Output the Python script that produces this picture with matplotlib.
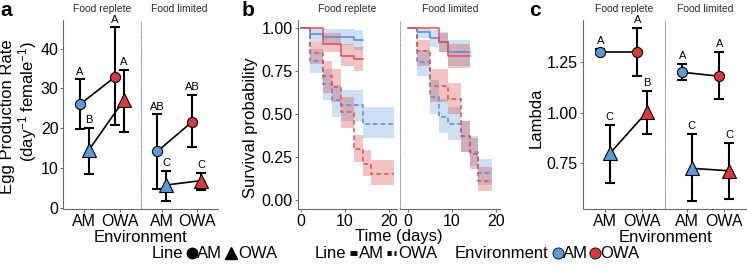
import matplotlib
matplotlib.use("Agg")
import matplotlib.pyplot as plt
from matplotlib.lines import Line2D

plt.rcParams["font.family"] = ["Liberation Sans", "DejaVu Sans"]
plt.rcParams["mathtext.fontset"] = "custom"
plt.rcParams["mathtext.rm"] = "Liberation Sans"
plt.rcParams["mathtext.it"] = "Liberation Sans"

W, H = 747, 268

# ---- data -----------------------------------------------------------------
environments = ["AM", "OWA"]
facets = ["Food replete", "Food limited"]

# panel a: egg production rate, [AM env, OWA env] per line
egg_repl_am = [26.0, 32.9]
egg_repl_am_lo = [19.8, 20.8]
egg_repl_am_hi = [32.3, 45.3]
egg_repl_am_lab = ["A", "A"]
egg_repl_owa = [14.6, 27.2]
egg_repl_owa_lo = [8.6, 19.2]
egg_repl_owa_hi = [20.2, 34.6]
egg_repl_owa_lab = ["B", "A"]
egg_lim_am = [14.2, 21.7]
egg_lim_am_lo = [4.8, 15.2]
egg_lim_am_hi = [23.5, 28.3]
egg_lim_am_lab = ["AB", "AB"]
egg_lim_owa = [5.8, 6.9]
egg_lim_owa_lo = [1.8, 4.6]
egg_lim_owa_hi = [9.4, 8.75]
egg_lim_owa_lab = ["C", "C"]

# panel c: lambda
lam_repl_am = [1.30, 1.30]
lam_repl_am_lo = [1.29, 1.18]
lam_repl_am_hi = [1.315, 1.42]
lam_repl_am_lab = ["A", "A"]
lam_repl_owa = [0.80, 1.005]
lam_repl_owa_lo = [0.655, 0.894]
lam_repl_owa_hi = [0.939, 1.108]
lam_repl_owa_lab = ["C", "B"]
lam_lim_am = [1.20, 1.18]
lam_lim_am_lo = [1.161, 1.067]
lam_lim_am_hi = [1.243, 1.30]
lam_lim_am_lab = ["A", "A"]
lam_lim_owa = [0.726, 0.714]
lam_lim_owa_lo = [0.565, 0.573]
lam_lim_owa_hi = [0.894, 0.852]
lam_lim_owa_lab = ["C", "C"]

# panel b: survival (step, post); line x environment
surv_repl_am_am_t = [0, 2, 5, 12, 14.2]
surv_repl_am_am = [1.0, 0.965, 0.95, 0.93, 0.93]
surv_repl_am_am_lo = [1.0, 0.92, 0.90, 0.87, 0.87]
surv_repl_am_am_hi = [1.0, 1.0, 0.995, 0.99, 0.99]

surv_repl_am_owa_t = [0, 5, 9, 12, 14.2]
surv_repl_am_owa = [1.0, 0.91, 0.84, 0.82, 0.82]
surv_repl_am_owa_lo = [1.0, 0.86, 0.78, 0.75, 0.75]
surv_repl_am_owa_hi = [1.0, 0.97, 0.91, 0.89, 0.89]

surv_repl_owa_am_t = [0, 2, 5, 7, 9, 14, 21.2]
surv_repl_owa_am = [1.0, 0.81, 0.675, 0.58, 0.55, 0.445, 0.445]
surv_repl_owa_am_lo = [1.0, 0.74, 0.58, 0.48, 0.46, 0.36, 0.36]
surv_repl_owa_am_hi = [1.0, 0.88, 0.76, 0.67, 0.64, 0.54, 0.54]

surv_repl_owa_owa_t = [0, 2, 5, 7, 9, 12, 14, 16, 21.2]
surv_repl_owa_owa = [1.0, 0.855, 0.72, 0.66, 0.51, 0.295, 0.21, 0.15, 0.15]
surv_repl_owa_owa_lo = [1.0, 0.79, 0.62, 0.57, 0.42, 0.22, 0.14, 0.09, 0.09]
surv_repl_owa_owa_hi = [1.0, 0.92, 0.81, 0.76, 0.60, 0.38, 0.29, 0.23, 0.23]

surv_lim_am_am_t = [0, 2, 5, 7, 9, 14]
surv_lim_am_am = [1.0, 0.975, 0.94, 0.92, 0.86, 0.86]
surv_lim_am_am_lo = [1.0, 0.94, 0.89, 0.86, 0.78, 0.78]
surv_lim_am_am_hi = [1.0, 1.0, 0.99, 0.98, 0.93, 0.93]

surv_lim_am_owa_t = [0, 7, 9, 14]
surv_lim_am_owa = [1.0, 0.92, 0.84, 0.84]
surv_lim_am_owa_lo = [1.0, 0.86, 0.77, 0.77]
surv_lim_am_owa_hi = [1.0, 0.97, 0.91, 0.91]

surv_lim_owa_am_t = [0, 2, 5, 7, 9, 12, 14, 16, 19]
surv_lim_owa_am = [1.0, 0.80, 0.60, 0.48, 0.445, 0.37, 0.28, 0.16, 0.16]
surv_lim_owa_am_lo = [1.0, 0.72, 0.50, 0.39, 0.35, 0.28, 0.20, 0.09, 0.09]
surv_lim_owa_am_hi = [1.0, 0.87, 0.70, 0.59, 0.54, 0.46, 0.37, 0.24, 0.24]

surv_lim_owa_owa_t = [0, 2, 5, 9, 12, 14, 16, 19]
surv_lim_owa_owa = [1.0, 0.865, 0.665, 0.585, 0.37, 0.265, 0.11, 0.11]
surv_lim_owa_owa_lo = [1.0, 0.78, 0.57, 0.50, 0.28, 0.18, 0.05, 0.05]
surv_lim_owa_owa_hi = [1.0, 0.93, 0.76, 0.68, 0.46, 0.36, 0.19, 0.19]

# ---- style ----------------------------------------------------------------
BLUE = "#5b9bd5"
RED = "#d63a3a"
LBLUE = "#5a8bd0"
LRED = "#e05057"
AXC = "#6b6b6b"
TICK_FS = 11.5
TITLE_FS = 12


def px(x, y):
    return x / W, 1 - y / H


def add_axes(x0, x1, y0=19.5, y1=209.3):
    return fig.add_axes([x0 / W, 1 - y1 / H, (x1 - x0) / W, (y1 - y0) / H])


def style_axes(ax, first):
    for s in ["top", "right"]:
        ax.spines[s].set_visible(False)
    ax.spines["bottom"].set_color(AXC)
    ax.spines["bottom"].set_linewidth(0.8)
    if first:
        ax.spines["left"].set_color(AXC)
        ax.spines["left"].set_linewidth(0.8)
    else:
        ax.spines["left"].set_color("#9a9a9a")
        ax.spines["left"].set_linewidth(0.7)
        ax.spines["left"].set_linestyle((0, (1.2, 1.5)))
        ax.tick_params(axis="y", left=False, labelleft=False)
    ax.tick_params(labelsize=TICK_FS, length=2, width=0.7, color=AXC, pad=1.5)
    ax.patch.set_alpha(0)


def point_facet(ax, am_line, owa_line, dodge=0.13):
    xs = [1, 2]
    for (m, lo, hi, lab), marker, ms, off in [
        (am_line, "o", 7.3, -dodge),
        (owa_line, "^", 9.5, dodge),
    ]:
        x = [v + off for v in xs]
        ax.plot(x, m, color="black", lw=1.2, zorder=2)
        for i in range(2):
            ax.errorbar(x[i], m[i], yerr=[[m[i] - lo[i]], [hi[i] - m[i]]],
                        color="black", lw=1.5, capsize=3.5, capthick=1.5,
                        zorder=2)
            ax.plot(x[i], m[i], marker=marker, ms=ms,
                    mfc=[BLUE, RED][i], mec="black", mew=0.8, zorder=3)
            ax.annotate(lab[i], (x[i], hi[i]), xytext=(0, 2),
                        textcoords="offset points", ha="center",
                        va="bottom", fontsize=8)
    ax.set_xlim(0.4, 2.6)
    ax.set_xticks(xs)
    ax.set_xticklabels(environments)


def surv_facet(ax, curves, xlim):
    for t, s, lo, hi, col, lcol, ls in curves:
        ax.fill_between(t, lo, hi, step="post", color=col, alpha=0.3,
                        lw=0, zorder=1)
        ax.step(t, s, where="post", color=lcol, lw=1.1, ls=ls, zorder=2)
    ax.set_xlim(*xlim)
    ax.set_ylim(-0.054, 1.05)
    ax.set_xticks([0, 10, 20])


fig = plt.figure(figsize=(W / 100, H / 100), dpi=100)

# ---- panel a ----------------------------------------------------------------
a1 = add_axes(63.3, 140.7)
a2 = add_axes(140.7, 218)
point_facet(a1, (egg_repl_am, egg_repl_am_lo, egg_repl_am_hi, egg_repl_am_lab),
            (egg_repl_owa, egg_repl_owa_lo, egg_repl_owa_hi, egg_repl_owa_lab))
point_facet(a2, (egg_lim_am, egg_lim_am_lo, egg_lim_am_hi, egg_lim_am_lab),
            (egg_lim_owa, egg_lim_owa_lo, egg_lim_owa_hi, egg_lim_owa_lab))
for i, ax in enumerate([a1, a2]):
    ax.set_ylim(-0.3, 47.3)
    ax.set_yticks([0, 10, 20, 30, 40])
    style_axes(ax, i == 0)

# ---- panel b ----------------------------------------------------------------
b1 = add_axes(297.7, 396.7)
b2 = add_axes(400, 500)
DASH = (0, (3, 2))
surv_facet(b1, [
    (surv_repl_owa_am_t, surv_repl_owa_am, surv_repl_owa_am_lo, surv_repl_owa_am_hi, BLUE, LBLUE, DASH),
    (surv_repl_owa_owa_t, surv_repl_owa_owa, surv_repl_owa_owa_lo, surv_repl_owa_owa_hi, RED, LRED, DASH),
    (surv_repl_am_am_t, surv_repl_am_am, surv_repl_am_am_lo, surv_repl_am_am_hi, BLUE, LBLUE, "-"),
    (surv_repl_am_owa_t, surv_repl_am_owa, surv_repl_am_owa_lo, surv_repl_am_owa_hi, RED, LRED, "-"),
], (-0.75, 21.75))
surv_facet(b2, [
    (surv_lim_owa_am_t, surv_lim_owa_am, surv_lim_owa_am_lo, surv_lim_owa_am_hi, BLUE, LBLUE, DASH),
    (surv_lim_owa_owa_t, surv_lim_owa_owa, surv_lim_owa_owa_lo, surv_lim_owa_owa_hi, RED, LRED, DASH),
    (surv_lim_am_am_t, surv_lim_am_am, surv_lim_am_am_lo, surv_lim_am_am_hi, BLUE, LBLUE, "-"),
    (surv_lim_am_owa_t, surv_lim_am_owa, surv_lim_am_owa_lo, surv_lim_am_owa_hi, RED, LRED, "-"),
], (-1.8, 20.9))
for i, ax in enumerate([b1, b2]):
    ax.set_yticks([0, 0.25, 0.5, 0.75, 1.0])
    ax.set_yticklabels(["0.00", "0.25", "0.50", "0.75", "1.00"])
    style_axes(ax, i == 0)

# ---- panel c ----------------------------------------------------------------
c1 = add_axes(582.7, 664.7)
c2 = add_axes(664.7, 746.5)
point_facet(c1, (lam_repl_am, lam_repl_am_lo, lam_repl_am_hi, lam_repl_am_lab),
            (lam_repl_owa, lam_repl_owa_lo, lam_repl_owa_hi, lam_repl_owa_lab))
point_facet(c2, (lam_lim_am, lam_lim_am_lo, lam_lim_am_hi, lam_lim_am_lab),
            (lam_lim_owa, lam_lim_owa_lo, lam_lim_owa_hi, lam_lim_owa_lab))
for i, ax in enumerate([c1, c2]):
    ax.set_ylim(0.524, 1.46)
    ax.set_yticks([0.75, 1.0, 1.25])
    ax.set_yticklabels(["0.75", "1.00", "1.25"])
    style_axes(ax, i == 0)

# facet strip titles
for ax, title in [(a1, facets[0]), (a2, facets[1]), (b1, facets[0]),
                  (b2, facets[1]), (c1, facets[0]), (c2, facets[1])]:
    ax.text(0.5, 1.03, title, transform=ax.transAxes, ha="center",
            va="bottom", fontsize=7.5, color="#2a2a2a")

# axis titles
fig.text(*px(140.5, 237), "Environment", ha="center", va="center", fontsize=TITLE_FS)
fig.text(*px(665, 237), "Environment", ha="center", va="center", fontsize=TITLE_FS)
fig.text(*px(399, 237), "Time (days)", ha="center", va="center", fontsize=TITLE_FS)
fig.text(*px(8, 117), "Egg Production Rate", rotation=90, ha="center",
         va="center", fontsize=TITLE_FS)
fig.text(*px(28, 101), r"(day$^{-1}$ female$^{-1}$)", rotation=90,
         ha="center", va="center", fontsize=TITLE_FS)
fig.text(*px(250, 128), "Survival probability", rotation=90, ha="center",
         va="center", fontsize=TITLE_FS)
fig.text(*px(536, 118), "Lambda", rotation=90, ha="center", va="center",
         fontsize=TITLE_FS)

# panel letters
for x, lab in [(0, "a"), (242, "b"), (529, "c")]:
    fig.text(*px(x, 16.5), lab, fontsize=15, fontweight="bold", va="baseline")

# ---- bottom legends -------------------------------------------------------
LY = 253
LEG_FS = 12


def leg_text(x, s):
    fig.text(*px(x, LY), s, fontsize=LEG_FS, va="center", ha="left")


def leg_marker(x, **kw):
    fig.add_artist(Line2D([x / W], [1 - LY / H], transform=fig.transFigure,
                          ls="none", **kw))


def leg_bar(x0, x1, ls):
    fig.add_artist(Line2D([x0 / W, x1 / W], [1 - LY / H] * 2,
                          transform=fig.transFigure, color="black", lw=3.5,
                          ls=ls, solid_capstyle="butt", dash_capstyle="butt"))


leg_text(152, "Line")
leg_marker(191.5, marker="o", ms=7.5, mfc="black", mec="black")
leg_text(197, "AM")
leg_marker(231, marker="^", ms=9, mfc="black", mec="black")
leg_text(238, "OWA")

leg_text(315, "Line")
leg_bar(349.5, 357, "-")
leg_text(359, "AM")
leg_bar(386.5, 396, (0, (0.85, 0.6)))
leg_text(398.5, "OWA")

leg_text(455, "Environment")
leg_marker(557.5, marker="o", ms=8, mfc=BLUE, mec="black", mew=0.6)
leg_text(563, "AM")
leg_marker(594.5, marker="o", ms=8, mfc=RED, mec="black", mew=0.6)
leg_text(600, "OWA")

fig.savefig("out.png", dpi=100)
